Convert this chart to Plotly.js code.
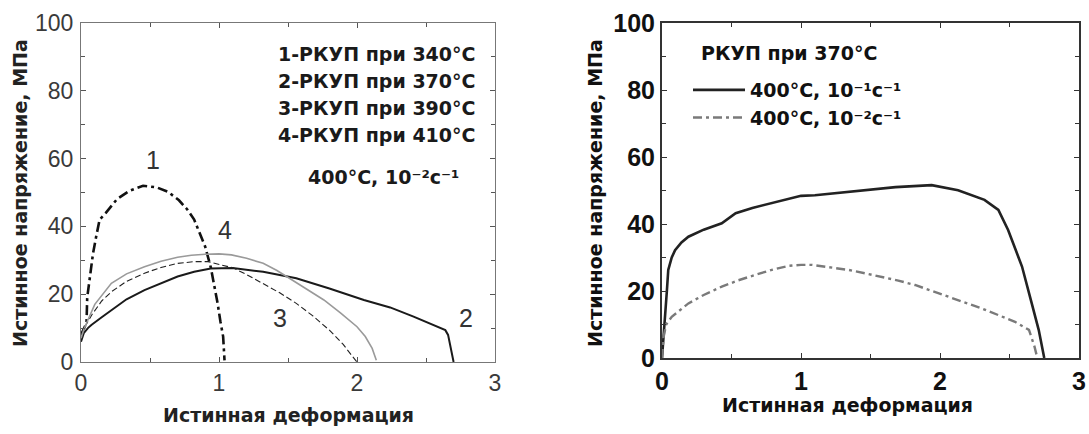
<!DOCTYPE html>
<html>
<head>
<meta charset="utf-8">
<script src="https://cdn.plot.ly/plotly-3.0.1.min.js"></script>
<style>html,body{margin:0;padding:0;background:#fff;}#chart{width:1089px;height:434px;}</style>
</head>
<body>
<div id="chart"></div>
<script>
// ---------- Left panel: true stress vs true strain, 400°C, 10^-2 s^-1 ----------
var c1x = [0, 0.02, 0.04, 0.045, 0.06, 0.087, 0.11, 0.135, 0.18, 0.26, 0.35, 0.45, 0.55, 0.63, 0.71, 0.77, 0.82, 0.86, 0.9, 0.94, 0.97, 0.99, 1.01, 1.03, 1.04];
var c1y = [8, 10, 11.5, 19, 24, 32, 37, 42, 44, 48, 50.5, 52, 51.5, 50.2, 47.7, 45, 42, 38, 34, 28, 22, 17.3, 12, 7.5, 0.5];

var c2x = [0, 0.02, 0.05, 0.075, 0.15, 0.22, 0.33, 0.46, 0.58, 0.7, 0.82, 0.94, 1.1, 1.32, 1.56, 1.8, 2.05, 2.24, 2.41, 2.55, 2.64, 2.66, 2.7];
var c2y = [6, 8.5, 10, 10.9, 13.2, 15.3, 18.5, 21.2, 23.3, 25.2, 26.6, 27.6, 27.7, 26.6, 24.7, 21.7, 18.3, 16.1, 13.4, 11, 9.4, 8, 0];

var c3x = [0, 0.03, 0.08, 0.15, 0.22, 0.33, 0.46, 0.58, 0.7, 0.82, 0.92, 1.01, 1.1, 1.2, 1.32, 1.44, 1.56, 1.68, 1.8, 1.9, 1.97, 2.0];
var c3y = [8, 10.5, 14, 18, 20.7, 23.8, 26.2, 27.9, 29.1, 29.6, 29.6, 28.6, 27.8, 25.8, 23.2, 20.4, 17.3, 13.6, 9.4, 5.2, 1.5, 0];

var c4x = [0, 0.02, 0.05, 0.1, 0.22, 0.33, 0.46, 0.58, 0.7, 0.8, 0.9, 1.0, 1.09, 1.2, 1.32, 1.42, 1.51, 1.64, 1.76, 1.88, 2.0, 2.06, 2.11, 2.14];
var c4y = [7, 9.5, 12.4, 17, 23.2, 26, 28.1, 29.7, 30.9, 31.5, 31.8, 31.9, 31.6, 30.6, 29.1, 27, 24.7, 21.5, 18.3, 14.5, 10.4, 7.5, 4, 0.5];

var curveLabels = ["1", "2", "3", "4"];
var curveLabelX = [0.52, 2.79, 1.44, 1.04];
var curveLabelY = [59.6, 12.9, 13, 39];

var leftNotes = ["1-РКУП при 340°С", "2-РКУП при 370°С", "3-РКУП при 390°С", "4-РКУП при 410°С"];
var leftCondition = "400°С, 10⁻²с⁻¹";

// ---------- Right panel: ECAP at 370°C, two strain rates ----------
var s1x = [0, 0.02, 0.035, 0.045, 0.07, 0.094, 0.14, 0.19, 0.3, 0.43, 0.53, 0.65, 0.79, 1.0, 1.1, 1.39, 1.68, 1.94, 2.13, 2.32, 2.42, 2.49, 2.59, 2.66, 2.71, 2.75];
var s1y = [0, 10, 20, 26.3, 30, 32.2, 34.5, 36.2, 38.3, 40.2, 43.2, 44.8, 46.2, 48.4, 48.6, 49.9, 51.0, 51.6, 50.1, 47.2, 44.2, 38.2, 27.3, 16.3, 8.4, 0];

var s2x = [0, 0.01, 0.03, 0.07, 0.19, 0.3, 0.43, 0.55, 0.67, 0.79, 0.91, 1.0, 1.08, 1.2, 1.34, 1.46, 1.58, 1.7, 1.82, 1.94, 2.06, 2.18, 2.3, 2.42, 2.54, 2.64, 2.68, 2.7];
var s2y = [0, 6, 10, 12.3, 16.3, 18.8, 21.3, 23.2, 24.8, 26.3, 27.5, 27.8, 27.8, 27.2, 26.3, 25.3, 24.3, 23.1, 21.8, 20.1, 18.3, 16.5, 14.8, 12.8, 10.8, 8.4, 3.4, 0];

var rightLegendTitle = "РКУП при 370°С";
var rightSeriesNames = ["400°С, 10⁻¹с⁻¹", "400°С, 10⁻²с⁻¹"];

var xTitle = "Истинная деформация";
var yTitle = "Истинное напряжение, МПа";

var xTicks = [0, 1, 2, 3];
var yTicks = [0, 20, 40, 60, 80, 100];

var boldFont = "DejaVu Sans";
var armFont = "Liberation Sans";

var traces = [
  {x: c1x, y: c1y, xaxis: 'x', yaxis: 'y', mode: 'lines', showlegend: false,
   line: {color: '#111', width: 2.6, dash: '10px,4px,3px,4px'}},
  {x: c2x, y: c2y, xaxis: 'x', yaxis: 'y', mode: 'lines', showlegend: false,
   line: {color: '#1a1a1a', width: 2}},
  {x: c3x, y: c3y, xaxis: 'x', yaxis: 'y', mode: 'lines', showlegend: false,
   line: {color: '#222', width: 1.1, dash: '6px,3px'}},
  {x: c4x, y: c4y, xaxis: 'x', yaxis: 'y', mode: 'lines', showlegend: false,
   line: {color: '#9a9a9a', width: 1.6}},
  {x: s1x, y: s1y, xaxis: 'x2', yaxis: 'y2', mode: 'lines', name: rightSeriesNames[0],
   line: {color: '#222', width: 2.6}},
  {x: s2x, y: s2y, xaxis: 'x2', yaxis: 'y2', mode: 'lines', name: rightSeriesNames[1],
   line: {color: '#7a7a7a', width: 2.4, dash: '9px,4px,3px,4px'}}
];

function axisBase(thin) {
  return {
    showgrid: false, zeroline: false, showline: true, mirror: 'ticks',
    linecolor: thin ? '#777' : '#333', linewidth: thin ? 1 : 2,
    ticks: 'inside', ticklen: 5, tickwidth: 1, tickcolor: thin ? '#555' : '#333',
    fixedrange: true
  };
}

var xL = Object.assign(axisBase(true), {
  domain: [81/1089, 495/1089], anchor: 'y', range: [0, 3],
  tickvals: xTicks, ticktext: xTicks.map(String),
  minor: {tickvals: [0.5, 1.5, 2.5], ticks: 'inside', ticklen: 4, tickcolor: '#555'},
  tickfont: {family: armFont, size: 23, color: '#3a3a3a'}
});
var yL = Object.assign(axisBase(true), {
  domain: [1 - 362/434, 1 - 23/434], anchor: 'x', range: [0, 100],
  tickvals: yTicks, ticktext: yTicks.map(String),
  minor: {tickvals: [10, 30, 50, 70, 90], ticks: 'inside', ticklen: 4, tickcolor: '#555'},
  tickfont: {family: armFont, size: 23, color: '#3a3a3a'}, ticklabelstandoff: 2
});
var xR = Object.assign(axisBase(false), {
  domain: [662/1089, 1079/1089], anchor: 'y2', range: [0, 3],
  tickvals: xTicks, ticktext: xTicks.map(String),
  minor: {tickvals: [0.5, 1.5, 2.5], ticks: 'inside', ticklen: 4, tickcolor: '#333'},
  tickfont: {family: armFont, size: 25, color: '#111', weight: 'bold'}
});
var yR = Object.assign(axisBase(false), {
  domain: [1 - 358/434, 1 - 23/434], anchor: 'x2', range: [0, 100],
  tickvals: yTicks, ticktext: yTicks.map(String),
  minor: {tickvals: [10, 30, 50, 70, 90], ticks: 'inside', ticklen: 4, tickcolor: '#333'},
  tickfont: {family: armFont, size: 25, color: '#111', weight: 'bold'}, ticklabelstandoff: 0
});

var annotations = [];
// axis titles
annotations.push({xref: 'paper', yref: 'paper', x: 288/1089, y: 1 - 415/434, text: xTitle, showarrow: false,
  xanchor: 'center', yanchor: 'middle', font: {family: boldFont, size: 19, color: '#222', weight: 'bold'}});
annotations.push({xref: 'paper', yref: 'paper', x: 848/1089, y: 1 - 405/434, text: xTitle, showarrow: false,
  xanchor: 'center', yanchor: 'middle', font: {family: boldFont, size: 19, color: '#111', weight: 'bold'}});
annotations.push({xref: 'paper', yref: 'paper', x: 20/1089, y: 1 - 193/434, text: yTitle, showarrow: false, textangle: -90,
  xanchor: 'center', yanchor: 'middle', font: {family: boldFont, size: 19, color: '#222', weight: 'bold'}});
annotations.push({xref: 'paper', yref: 'paper', x: 595/1089, y: 1 - 193/434, text: yTitle, showarrow: false, textangle: -90,
  xanchor: 'center', yanchor: 'middle', font: {family: boldFont, size: 19, color: '#111', weight: 'bold'}});
// curve numbers
for (var i = 0; i < curveLabels.length; i++) {
  annotations.push({xref: 'x', yref: 'y', x: curveLabelX[i], y: curveLabelY[i], text: curveLabels[i], showarrow: false,
    xanchor: 'center', yanchor: 'middle', font: {family: armFont, size: 25, color: '#333'}});
}
// left notes
var noteY = [54, 81, 108, 135];
for (var j = 0; j < leftNotes.length; j++) {
  annotations.push({xref: 'paper', yref: 'paper', x: 478/1089, y: 1 - noteY[j]/434, text: leftNotes[j], showarrow: false,
    xanchor: 'right', yanchor: 'middle', font: {family: boldFont, size: 19, color: '#1a1a1a', weight: 'bold'}});
}
annotations.push({xref: 'paper', yref: 'paper', x: 383/1089, y: 1 - 177/434, text: leftCondition, showarrow: false,
  xanchor: 'center', yanchor: 'middle', font: {family: boldFont, size: 19, color: '#1a1a1a', weight: 'bold'}});
// right legend heading
annotations.push({xref: 'paper', yref: 'paper', x: 699/1089, y: 1 - 53/434, text: rightLegendTitle, showarrow: false,
  xanchor: 'left', yanchor: 'middle', font: {family: boldFont, size: 19, color: '#111', weight: 'bold'}});

var layout = {
  width: 1089, height: 434,
  margin: {l: 0, r: 0, t: 0, b: 0},
  paper_bgcolor: '#fff', plot_bgcolor: '#fff',
  xaxis: xL, yaxis: yL, xaxis2: xR, yaxis2: yR,
  annotations: annotations,
  showlegend: true,
  legend: {
    x: 688/1089, y: 1 - 71/434, xanchor: 'left', yanchor: 'top',
    bgcolor: 'rgba(0,0,0,0)', borderwidth: 0,
    font: {family: boldFont, size: 19, color: '#111', weight: 'bold'},
    itemwidth: 52
  }
};

Plotly.newPlot('chart', traces, layout, {displayModeBar: false, staticPlot: true});
</script>
</body>
</html>
